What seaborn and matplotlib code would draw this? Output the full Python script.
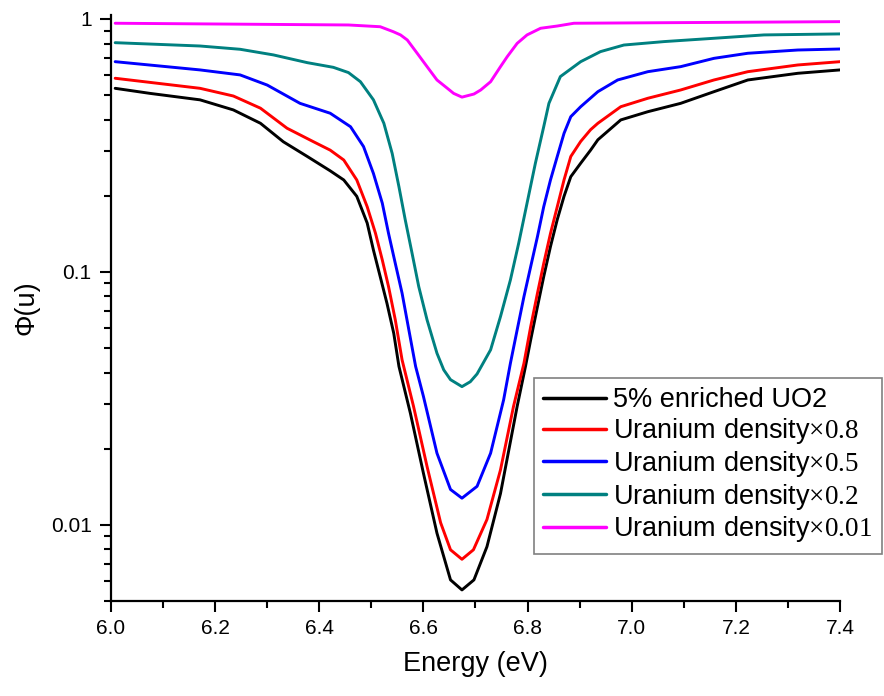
import matplotlib
matplotlib.use("Agg")
import matplotlib.pyplot as plt
import matplotlib.ticker as mticker
import numpy as np
import pandas as pd
import seaborn as sns

# ---- data ----
labels = ["5% enriched UO2",
          "Uranium density$\\times\\mathrm{0.8}$",
          "Uranium density$\\times\\mathrm{0.5}$",
          "Uranium density$\\times\\mathrm{0.2}$",
          "Uranium density$\\times\\mathrm{0.01}$"]
colors = ["#000000", "#ff0000", "#0000ff", "#008080", "#ff00ff"]

e_black = [6.008, 6.075, 6.171, 6.235, 6.287, 6.331, 6.377, 6.421, 6.447, 6.472, 6.492, 6.504,
           6.517, 6.530, 6.543, 6.553, 6.575, 6.600, 6.626, 6.652, 6.674, 6.697, 6.722, 6.748,
           6.780, 6.796, 6.806, 6.819, 6.831, 6.844, 6.857, 6.870, 6.883, 6.902, 6.921, 6.935,
           6.979, 7.031, 7.094, 7.158, 7.223, 7.319, 7.400]
phi_black = [0.532, 0.508, 0.479, 0.437, 0.387, 0.327, 0.286, 0.251, 0.231, 0.199, 0.156, 0.122,
             0.0958, 0.0751, 0.0572, 0.0423, 0.0276, 0.0160, 0.00927, 0.00606, 0.00553, 0.00606, 0.0082, 0.0133,
             0.0294, 0.0423, 0.0539, 0.0729, 0.0958, 0.126, 0.161, 0.199, 0.238, 0.269, 0.303, 0.333,
             0.399, 0.430, 0.464, 0.516, 0.574, 0.610, 0.629]

e_red = [6.008, 6.171, 6.235, 6.287, 6.338, 6.389, 6.421, 6.447, 6.472, 6.492, 6.508, 6.521,
         6.533, 6.546, 6.559, 6.581, 6.607, 6.633, 6.652, 6.674, 6.696, 6.722, 6.748, 6.773,
         6.793, 6.806, 6.819, 6.831, 6.844, 6.857, 6.870, 6.883, 6.902, 6.921, 6.935, 6.979,
         7.031, 7.094, 7.158, 7.223, 7.319, 7.400]
phi_red = [0.583, 0.532, 0.496, 0.444, 0.370, 0.327, 0.303, 0.277, 0.231, 0.181, 0.142, 0.1115,
           0.0875, 0.0646, 0.0449, 0.0294, 0.0170, 0.0102, 0.00797, 0.00731, 0.00797, 0.0105, 0.0165, 0.0294,
           0.0435, 0.0608, 0.0824, 0.108, 0.142, 0.181, 0.231, 0.286, 0.328, 0.365, 0.387, 0.450,
           0.486, 0.524, 0.574, 0.619, 0.658, 0.678]

e_blue = [6.008, 6.171, 6.248, 6.300, 6.363, 6.421, 6.460, 6.485, 6.504, 6.521, 6.533, 6.546,
          6.559, 6.572, 6.585, 6.600, 6.626, 6.652, 6.674, 6.703, 6.729, 6.754, 6.767, 6.780,
          6.793, 6.806, 6.819, 6.831, 6.844, 6.857, 6.870, 6.883, 6.902, 6.935, 6.973, 7.031,
          7.094, 7.158, 7.223, 7.319, 7.400]
phi_blue = [0.678, 0.629, 0.601, 0.548, 0.464, 0.424, 0.375, 0.313, 0.245, 0.187, 0.142, 0.108,
            0.0824, 0.0590, 0.0423, 0.0322, 0.0192, 0.0138, 0.01275, 0.0142, 0.0192, 0.0312, 0.0435, 0.0590,
            0.0798, 0.105, 0.138, 0.181, 0.231, 0.286, 0.353, 0.411, 0.450, 0.516, 0.574, 0.619,
            0.648, 0.699, 0.732, 0.754, 0.761]

e_teal = [6.008, 6.171, 6.248, 6.312, 6.377, 6.427, 6.456, 6.479, 6.504, 6.524, 6.540, 6.553,
          6.565, 6.578, 6.591, 6.607, 6.626, 6.639, 6.652, 6.674, 6.690, 6.703, 6.729, 6.748,
          6.767, 6.783, 6.799, 6.815, 6.831, 6.841, 6.863, 6.902, 6.940, 6.985, 7.062, 7.158,
          7.254, 7.400]
phi_teal = [0.806, 0.782, 0.759, 0.721, 0.672, 0.644, 0.614, 0.565, 0.479, 0.387, 0.294, 0.217,
            0.161, 0.119, 0.0875, 0.0646, 0.0477, 0.0410, 0.0375, 0.0352, 0.0368, 0.0395, 0.0492, 0.0666,
            0.0929, 0.130, 0.187, 0.269, 0.375, 0.464, 0.592, 0.678, 0.743, 0.789, 0.814, 0.839,
            0.865, 0.873]

e_mag = [6.008, 6.456, 6.517, 6.542, 6.556, 6.569, 6.588, 6.607, 6.626, 6.646, 6.658, 6.674,
         6.697, 6.710, 6.729, 6.748, 6.761, 6.780, 6.799, 6.825, 6.857, 6.889, 7.400]
phi_mag = [0.962, 0.947, 0.932, 0.891, 0.865, 0.826, 0.732, 0.648, 0.574, 0.532, 0.508, 0.491,
           0.505, 0.524, 0.565, 0.648, 0.710, 0.801, 0.865, 0.919, 0.938, 0.962, 0.976]

x_ticks = [6.0, 6.2, 6.4, 6.6, 6.8, 7.0, 7.2, 7.4]
x_tick_labels = ["6.0", "6.2", "6.4", "6.6", "6.8", "7.0", "7.2", "7.4"]
y_ticks = [0.01, 0.1, 1]
y_tick_labels = ["0.01", "0.1", "1"]

# ---- build long-form table ----
series = [(e_black, phi_black), (e_red, phi_red), (e_blue, phi_blue), (e_teal, phi_teal), (e_mag, phi_mag)]
frames = []
for lab, (e, p) in zip(labels, series):
    frames.append(pd.DataFrame({"Energy": e, "Phi": p, "Series": lab}))
df = pd.concat(frames, ignore_index=True)

sns.set_style("ticks")
plt.rcParams["font.family"] = ["Liberation Sans", "DejaVu Sans"]
plt.rcParams["mathtext.fontset"] = "custom"
plt.rcParams["mathtext.rm"] = "Liberation Serif"
plt.rcParams["mathtext.it"] = "Liberation Serif:italic"
plt.rcParams["mathtext.bf"] = "Liberation Serif:bold"
plt.rcParams["text.color"] = "black"
plt.rcParams["axes.labelcolor"] = "black"

fig = plt.figure(figsize=(8.84, 6.96), dpi=100)
ax = fig.add_axes([111/884, 1 - 601/696, (840-111)/884, (601-15)/696])

sns.lineplot(data=df, x="Energy", y="Phi", hue="Series", hue_order=labels,
             palette=dict(zip(labels, colors)), estimator=None, sort=True,
             linewidth=2.1, ax=ax, legend=True)

ax.set_yscale("log")
ax.set_xlim(6.0, 7.4)
ax.set_ylim(0.005, 1.037)

ax.xaxis.set_major_locator(mticker.FixedLocator(x_ticks))
ax.xaxis.set_major_formatter(mticker.FixedFormatter(x_tick_labels))
ax.xaxis.set_minor_locator(mticker.MultipleLocator(0.1))
ax.yaxis.set_major_locator(mticker.FixedLocator(y_ticks))
ax.yaxis.set_major_formatter(mticker.FixedFormatter(y_tick_labels))
ax.yaxis.set_minor_locator(mticker.LogLocator(base=10, subs=np.arange(2, 10)))
ax.yaxis.set_minor_formatter(mticker.NullFormatter())

for s in ["top", "right"]:
    ax.spines[s].set_visible(False)
for s in ["left", "bottom"]:
    ax.spines[s].set_linewidth(1.6)
    ax.spines[s].set_color("black")

ax.tick_params(which="major", direction="out", length=8, width=1.5, labelsize=15,
               colors="black", labelcolor="black", pad=5)
ax.tick_params(which="minor", direction="out", length=5, width=1.5, colors="black")
ax.tick_params(axis="y", which="major", pad=6)

ax.set_xlabel("Energy (eV)", fontsize=19.5, labelpad=9, color="black")
ax.set_ylabel("Φ(u)", fontsize=19.5, labelpad=8, color="black")

handles, labs = ax.get_legend_handles_labels()
if ax.get_legend():
    ax.get_legend().remove()
leg = fig.legend(handles, labs, loc="upper left", bbox_to_anchor=(534/884, 1 - 378/696),
                 bbox_transform=fig.transFigure, fontsize=19.5, frameon=True, fancybox=False,
                 edgecolor="#808080", framealpha=1, borderaxespad=0, handlelength=2.3,
                 handletextpad=0.28, labelspacing=0.1, borderpad=0.35)
leg.get_frame().set_linewidth(1.2)
for line in leg.get_lines():
    line.set_linewidth(2.5)
for t in leg.get_texts():
    t.set_color("black")

fig.savefig("out.png", dpi=100)
